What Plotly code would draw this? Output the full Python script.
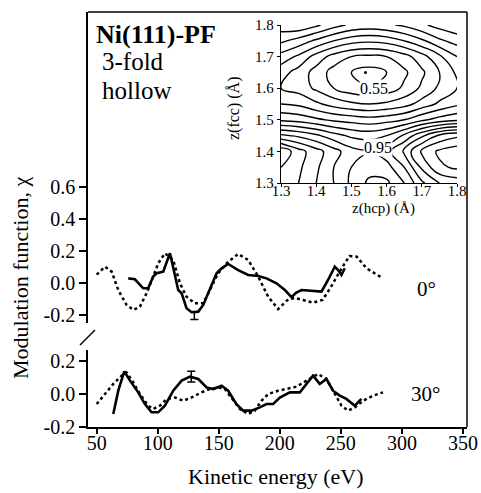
import plotly.graph_objects as go

W, H = 481, 493

# ---------------- data ----------------
# 0 deg panel
e0_theory = [50, 56.8, 62.3, 67.7, 74.5, 80, 85.4, 90.9, 96.3, 100.4, 105.9, 112.7, 118.2, 123.6, 130.4,
             137.3, 142.7, 149.5, 157.7, 165.9, 174.1, 182.3, 190.5, 198.6, 206, 212, 219, 227, 235, 242,
             249, 257, 263, 271, 284.5]
chi0_theory = [0.05, 0.1, 0.069, -0.046, -0.139, -0.17, -0.15, -0.066, 0.038, 0.121, 0.184, 0.142, -0.004,
               -0.088, -0.129, -0.129, -0.046, 0.059, 0.131, 0.179, 0.142, 0.038, -0.088, -0.165, -0.11,
               -0.095, -0.108, -0.125, -0.108, -0.025, 0.069, 0.167, 0.163, 0.09, 0.027]
e0_exp = [75.9, 81.3, 88.1, 92.2, 96.3, 99.1, 104.5, 108.1, 110, 111.9, 114.1, 116.8, 119.6, 123.6, 127.7,
          133.2, 137.3, 142.7, 148.2, 152.3, 157.7, 165.9, 174.1, 182.3, 189.1, 197.3, 204.1, 209.6, 213.5,
          217.8, 224.5, 234.1, 239.5, 245, 247.7, 250.5, 253.2]
chi0_exp = [0.027, 0.021, -0.035, -0.035, 0.038, 0.059, 0.069, 0.142, 0.184, 0.121, 0.038, -0.046, -0.066,
            -0.16, -0.185, -0.181, -0.139, -0.046, 0.059, 0.09, 0.117, 0.079, 0.048, 0.042, 0.027, -0.004,
            -0.046, -0.091, -0.062, -0.046, -0.052, -0.056, 0.017, 0.1, 0.079, 0.048, 0.09]
err0_e, err0_chi, err0_plus, err0_minus = [130], [-0.185], [0.0], [0.045]

# 30 deg panel
e30_theory = [50, 56.8, 63.6, 70.5, 74.5, 80, 85.4, 92.2, 96.3, 101.8, 107.3, 114.1, 120.9, 127.7, 135.9,
              142.7, 149.5, 155, 160.5, 167.3, 174.1, 179.5, 185, 190.5, 198.6, 206, 213.6, 221.8, 231.3,
              238.2, 245, 250.5, 255.9, 261.4, 268.2, 276.4, 284.5]
chi30_theory = [-0.061, 0, 0.061, 0.111, 0.131, 0.07, 0, -0.071, -0.091, -0.071, -0.03, -0.021, -0.041,
                -0.021, 0.01, 0.03, 0.04, 0.03, -0.021, -0.091, -0.121, -0.101, -0.041, 0, 0.02, 0.03,
                0.044, 0.081, 0.121, 0.091, 0, -0.071, -0.101, -0.081, -0.041, -0.01, 0.01]
e30_exp = [63.6, 67.7, 72.6, 77.3, 84, 89.5, 95, 100.4, 105.9, 112.7, 119.6, 126.4, 133.2, 140, 145.4,
           152.3, 157.7, 164.5, 170, 176.8, 183.6, 189.1, 194.5, 200, 208.2, 216.4, 221.8, 227.2, 232.7,
           238.2, 243.6, 249.1, 254.5, 261.4, 266.8]
chi30_exp = [-0.121, 0.02, 0.137, 0.081, 0.01, -0.061, -0.111, -0.111, -0.071, 0.02, 0.081, 0.105, 0.091,
             0.04, 0.03, 0.05, 0.02, -0.061, -0.101, -0.101, -0.081, -0.061, -0.061, -0.021, 0.01, 0.01,
             0.061, 0.111, 0.061, 0.091, 0.02, -0.01, -0.03, -0.071, -0.03]
err30_e, err30_chi, err30_pm = [127.5], [0.105], [0.033]

x_ticks = [50, 100, 150, 200, 250, 300, 350]
y0_ticks = [-0.2, 0.0, 0.2, 0.4, 0.6]
y0_labels = ["-0.2", "0.0", "0.2", "0.4", "0.6"]
y30_ticks = [-0.2, 0.0, 0.2]
y30_labels = ["-0.2", "0.0", "0.2"]

# inset R-factor map
z_hcp = [1.30, 1.35, 1.40, 1.45, 1.50, 1.55, 1.60, 1.65, 1.70, 1.75, 1.80]
z_fcc = [1.30, 1.35, 1.40, 1.45, 1.50, 1.55, 1.60, 1.65, 1.70, 1.75, 1.80]
r_factor = [
    [1.13, 1.10, 1.05, 1.00, 0.94, 0.89, 0.89, 0.95, 1.04, 1.10, 1.12],   # 1.30
    [1.15, 1.11, 1.06, 1.00, 0.95, 0.92, 0.93, 1.00, 1.11, 1.19, 1.21],   # 1.35
    [1.19, 1.12, 1.07, 1.02, 0.97, 0.955, 0.98, 1.06, 1.16, 1.21, 1.23],  # 1.40
    [1.01, 0.99, 0.96, 0.92, 0.89, 0.88, 0.90, 0.96, 1.04, 1.11, 1.14],   # 1.45
    [0.84, 0.83, 0.81, 0.79, 0.78, 0.77, 0.78, 0.80, 0.84, 0.87, 0.89],   # 1.50
    [0.75, 0.74, 0.71, 0.68, 0.66, 0.65, 0.66, 0.68, 0.72, 0.76, 0.79],   # 1.55
    [0.70, 0.68, 0.64, 0.60, 0.57, 0.555, 0.57, 0.61, 0.66, 0.71, 0.75],  # 1.60
    [0.72, 0.68, 0.63, 0.58, 0.55, 0.53, 0.55, 0.59, 0.64, 0.70, 0.76],   # 1.65
    [0.78, 0.74, 0.68, 0.63, 0.60, 0.59, 0.60, 0.63, 0.68, 0.74, 0.80],   # 1.70
    [0.86, 0.83, 0.79, 0.75, 0.72, 0.71, 0.72, 0.75, 0.79, 0.84, 0.87],   # 1.75
    [0.93, 0.94, 0.91, 0.87, 0.84, 0.83, 0.84, 0.86, 0.89, 0.92, 0.94],   # 1.80
]
r_min_hcp, r_min_fcc = [1.54], [1.65]
inset_ticks = [1.3, 1.4, 1.5, 1.6, 1.7, 1.8]
inset_labels = ["1.3", "1.4", "1.5", "1.6", "1.7", "1.8"]

# ---------------- layout helpers ----------------
def px(x):
    return x / W

def py(y):
    return 1 - y / H

SERIF = "Liberation Serif"
BLACK = "black"

fig = go.Figure()

# top panel (0 deg)
fig.add_trace(go.Scatter(x=e0_theory, y=chi0_theory, mode="lines", xaxis="x", yaxis="y",
                         line=dict(color=BLACK, width=2.5, dash="dot"), hoverinfo="skip"))
fig.add_trace(go.Scatter(x=e0_exp, y=chi0_exp, mode="lines", xaxis="x", yaxis="y",
                         line=dict(color=BLACK, width=2.6), hoverinfo="skip"))
fig.add_trace(go.Scatter(x=err0_e, y=err0_chi, mode="markers", xaxis="x", yaxis="y",
                         marker=dict(size=1, color=BLACK),
                         error_y=dict(type="data", symmetric=False, array=err0_plus, arrayminus=err0_minus,
                                      color=BLACK, thickness=1.5, width=4)))

# bottom panel (30 deg)
fig.add_trace(go.Scatter(x=e30_theory, y=chi30_theory, mode="lines", xaxis="x", yaxis="y2",
                         line=dict(color=BLACK, width=2.5, dash="dot"), hoverinfo="skip"))
fig.add_trace(go.Scatter(x=e30_exp, y=chi30_exp, mode="lines", xaxis="x", yaxis="y2",
                         line=dict(color=BLACK, width=2.6), hoverinfo="skip"))
fig.add_trace(go.Scatter(x=err30_e, y=err30_chi, mode="markers", xaxis="x", yaxis="y2",
                         marker=dict(size=1, color=BLACK),
                         error_y=dict(type="data", array=err30_pm, color=BLACK, thickness=1.5, width=4)))

# inset contour
fig.add_trace(go.Contour(x=z_hcp, y=z_fcc, z=r_factor, xaxis="x3", yaxis="y3",
                         contours=dict(coloring="lines", start=0.55, end=1.25, size=0.05),
                         colorscale=[[0, BLACK], [1, BLACK]], showscale=False,
                         line=dict(width=1.4, smoothing=1.3), hoverinfo="skip"))
fig.add_trace(go.Scatter(x=r_min_hcp, y=r_min_fcc, mode="markers", xaxis="x3", yaxis="y3",
                         marker=dict(size=3, color=BLACK), hoverinfo="skip"))

axis_common = dict(showline=True, linecolor=BLACK, linewidth=1.5, ticks="outside", tickcolor=BLACK,
                   tickwidth=1.5, showgrid=False, zeroline=False, automargin=False,
                   tickfont=dict(family=SERIF, size=20, color=BLACK))
inset_common = dict(range=[1.3, 1.8], tickvals=inset_ticks, ticktext=inset_labels, showline=True,
                    linecolor=BLACK, linewidth=1.3, ticks="outside", ticklen=3, tickwidth=1.2,
                    tickcolor=BLACK, showgrid=False, zeroline=False, automargin=False,
                    tickfont=dict(family=SERIF, size=15, color=BLACK))

fig.update_layout(
    width=W, height=H, margin=dict(l=0, r=0, t=0, b=0, pad=0, autoexpand=False),
    paper_bgcolor="white", plot_bgcolor="rgba(0,0,0,0)", showlegend=False,
    xaxis=dict(domain=[px(88), px(467)], range=[42.9, 353.3], anchor="y2", tickvals=x_ticks,
               ticklen=5, ticklabelstandoff=-8, **axis_common),
    yaxis=dict(domain=[py(323), py(12)], range=[-0.252, 1.692], anchor="x", tickvals=y0_ticks,
               ticktext=y0_labels, ticklen=7, **axis_common),
    yaxis2=dict(domain=[py(427), py(350)], range=[-0.2, 0.2667], anchor="x", tickvals=y30_ticks,
                ticktext=y30_labels, ticklen=7, **axis_common),
    xaxis3=dict(domain=[px(281), px(457)], anchor="y3", ticklabelstandoff=-9, **inset_common),
    yaxis3=dict(domain=[py(183), py(25)], anchor="x3", **inset_common),
)

# frame (top and right borders) and axis break mark
fig.add_shape(type="line", xref="paper", yref="paper", x0=px(88), x1=px(467), y0=py(12), y1=py(12),
              line=dict(color=BLACK, width=1.5))
fig.add_shape(type="line", xref="paper", yref="paper", x0=px(467), x1=px(467), y0=py(12), y1=py(427),
              line=dict(color=BLACK, width=1.5))
fig.add_shape(type="line", xref="paper", yref="paper", x0=px(80), x1=px(95), y0=py(345), y1=py(330),
              line=dict(color=BLACK, width=1.5))

def text(x, y, s, size, xanchor="left", bold=False, angle=0):
    fig.add_annotation(x=px(x), y=py(y), xref="paper", yref="paper", text=("<b>%s</b>" % s) if bold else s,
                       showarrow=False, xanchor=xanchor, yanchor="middle", textangle=angle,
                       font=dict(family=SERIF, size=size, color=BLACK), borderpad=0)

text(95, 35, "Ni(111)-PF", 26, bold=True)
text(101, 62, "3-fold", 25)
text(101, 90, "hollow", 25)
text(416, 289, "0°", 21)
text(410, 394, "30°", 21)
text(276, 476, "Kinetic energy (eV)", 22, xanchor="center")
text(20, 278, "Modulation function, χ", 22, xanchor="center", angle=-90)
text(383, 208, "z(hcp) (Å)", 15, xanchor="center")
text(234, 108, "z(fcc) (Å)", 16, xanchor="center", angle=-90)

# contour labels
fig.add_annotation(x=1.565, y=1.60, xref="x3", yref="y3", text="0.55", showarrow=False,
                   font=dict(family=SERIF, size=16, color=BLACK), bgcolor="white", borderpad=0)
fig.add_annotation(x=1.575, y=1.413, xref="x3", yref="y3", text="0.95", showarrow=False,
                   font=dict(family=SERIF, size=16, color=BLACK), bgcolor="white", borderpad=0)

fig.write_html("out.html", config={"displayModeBar": False},
               post_script="document.body.style.margin='0';document.body.style.overflow='hidden';")
